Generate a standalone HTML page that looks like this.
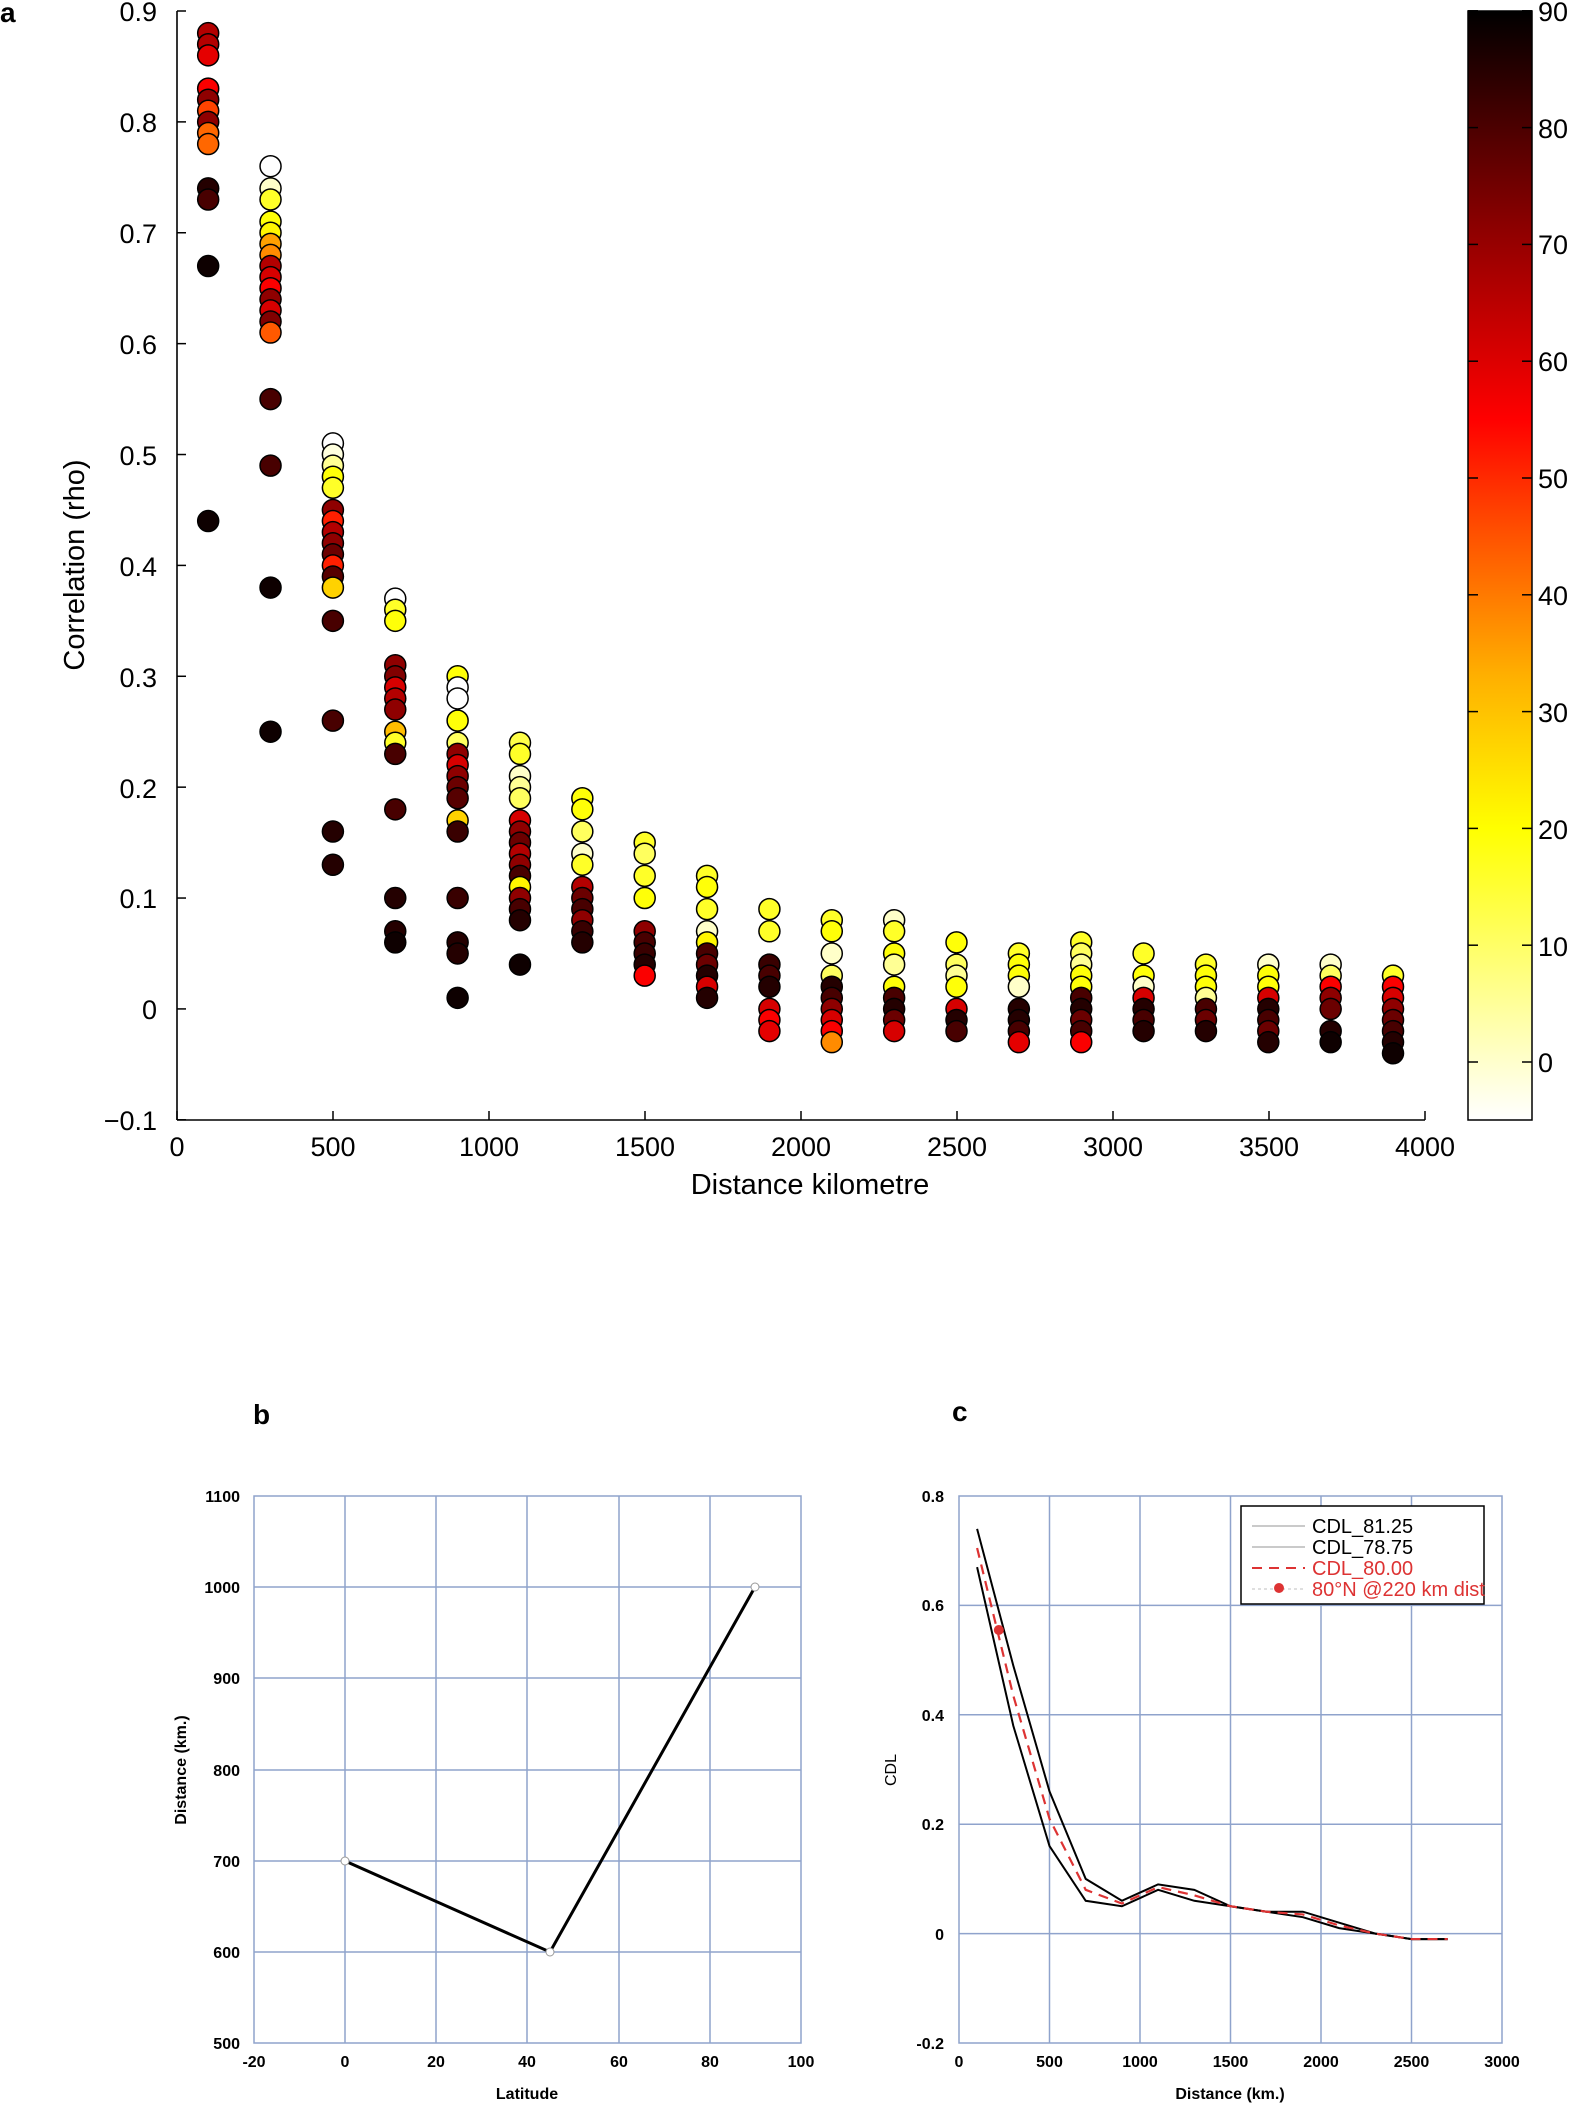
<!DOCTYPE html>
<html><head><meta charset="utf-8"><style>
html,body{margin:0;padding:0;background:#fff}
svg{display:block}
text{font-family:"Liberation Sans",Arial,sans-serif}
</style></head><body>
<svg id="s" width="1575" height="2108" viewBox="0 0 1575 2108" xmlns="http://www.w3.org/2000/svg">
<defs>
<linearGradient id="cb" x1="0" y1="1" x2="0" y2="0">
<stop offset="0" stop-color="#ffffff"/>
<stop offset="0.263" stop-color="#ffff00"/>
<stop offset="0.40" stop-color="#ffb000"/>
<stop offset="0.53" stop-color="#ff5000"/>
<stop offset="0.632" stop-color="#ff0000"/>
<stop offset="0.80" stop-color="#900000"/>
<stop offset="1" stop-color="#000000"/>
</linearGradient>
</defs>
<text x="0" y="22" font-size="28" font-weight="bold">a</text>
<g stroke="#000" stroke-width="1.6" fill="none">
<line x1="177" y1="11" x2="177" y2="1120"/>
<line x1="177" y1="1120" x2="1425" y2="1120"/>
</g>
<g id="ticks" stroke="#000" stroke-width="1.5"></g>
<g font-size="27" text-anchor="end" fill="#000">
<text x="157" y="21">0.9</text><text x="157" y="132">0.8</text><text x="157" y="243">0.7</text>
<text x="157" y="354">0.6</text><text x="157" y="465">0.5</text><text x="157" y="576">0.4</text>
<text x="157" y="687">0.3</text><text x="157" y="798">0.2</text><text x="157" y="908">0.1</text>
<text x="157" y="1019">0</text><text x="157" y="1130">−0.1</text>
</g>
<g font-size="27" text-anchor="middle">
<text x="177" y="1156">0</text><text x="333" y="1156">500</text><text x="489" y="1156">1000</text>
<text x="645" y="1156">1500</text><text x="801" y="1156">2000</text><text x="957" y="1156">2500</text>
<text x="1113" y="1156">3000</text><text x="1269" y="1156">3500</text><text x="1425" y="1156">4000</text>
</g>
<text x="810" y="1194" font-size="29" text-anchor="middle">Distance kilometre</text>
<text transform="translate(84,565) rotate(-90)" font-size="29" text-anchor="middle">Correlation (rho)</text>
<g id="pts" stroke="#000" stroke-width="1.5"></g>
<rect x="1468" y="11" width="64" height="1109" fill="url(#cb)" stroke="#000" stroke-width="1.5"/>
<g id="cbt" stroke="#000" stroke-width="1.5"></g>
<g font-size="27" fill="#000">
<text x="1538" y="21">90</text><text x="1538" y="138">80</text><text x="1538" y="254">70</text>
<text x="1538" y="371">60</text><text x="1538" y="488">50</text><text x="1538" y="605">40</text>
<text x="1538" y="722">30</text><text x="1538" y="839">20</text><text x="1538" y="956">10</text>
<text x="1538" y="1072">0</text>
</g>

<text x="253" y="1424" font-size="28" font-weight="bold">b</text>
<g stroke="#8fa3cc" stroke-width="1.5" fill="none">
<rect x="254" y="1496" width="547" height="547"/>
<line x1="345" y1="1496" x2="345" y2="2043"/><line x1="436" y1="1496" x2="436" y2="2043"/>
<line x1="527" y1="1496" x2="527" y2="2043"/><line x1="619" y1="1496" x2="619" y2="2043"/>
<line x1="710" y1="1496" x2="710" y2="2043"/>
<line x1="254" y1="1587" x2="801" y2="1587"/><line x1="254" y1="1678" x2="801" y2="1678"/>
<line x1="254" y1="1770" x2="801" y2="1770"/><line x1="254" y1="1861" x2="801" y2="1861"/>
<line x1="254" y1="1952" x2="801" y2="1952"/>
</g>
<polyline points="345,1861 550,1952 755,1587" fill="none" stroke="#000" stroke-width="3"/>
<g fill="#fff" stroke="#999" stroke-width="1"><circle cx="345" cy="1861" r="4"/><circle cx="550" cy="1952" r="4"/><circle cx="755" cy="1587" r="4"/></g>
<g font-size="16" font-weight="bold" text-anchor="end">
<text x="240" y="1502">1100</text><text x="240" y="1593">1000</text><text x="240" y="1684">900</text>
<text x="240" y="1776">800</text><text x="240" y="1867">700</text><text x="240" y="1958">600</text>
<text x="240" y="2049">500</text>
</g>
<g font-size="16" font-weight="bold" text-anchor="middle">
<text x="254" y="2067">-20</text><text x="345" y="2067">0</text><text x="436" y="2067">20</text>
<text x="527" y="2067">40</text><text x="619" y="2067">60</text><text x="710" y="2067">80</text>
<text x="801" y="2067">100</text>
<text x="527" y="2099">Latitude</text>
</g>
<text transform="translate(186,1770) rotate(-90)" font-size="16" font-weight="bold" text-anchor="middle">Distance (km.)</text>

<text x="952" y="1421" font-size="28" font-weight="bold">c</text>
<g stroke="#8fa3cc" stroke-width="1.5" fill="none">
<rect x="959" y="1496" width="543" height="547"/>
<line x1="1049.5" y1="1496" x2="1049.5" y2="2043"/><line x1="1140" y1="1496" x2="1140" y2="2043"/>
<line x1="1230.5" y1="1496" x2="1230.5" y2="2043"/><line x1="1321" y1="1496" x2="1321" y2="2043"/>
<line x1="1411.5" y1="1496" x2="1411.5" y2="2043"/>
<line x1="959" y1="1605.4" x2="1502" y2="1605.4"/><line x1="959" y1="1714.8" x2="1502" y2="1714.8"/>
<line x1="959" y1="1824.2" x2="1502" y2="1824.2"/><line x1="959" y1="1933.6" x2="1502" y2="1933.6"/>
</g>
<g id="clines"></g>
<g font-size="16" font-weight="bold" text-anchor="end">
<text x="944" y="1502">0.8</text><text x="944" y="1611">0.6</text><text x="944" y="1721">0.4</text>
<text x="944" y="1830">0.2</text><text x="944" y="1940">0</text><text x="944" y="2049">-0.2</text>
</g>
<g font-size="16" font-weight="bold" text-anchor="middle">
<text x="959" y="2067">0</text><text x="1049.5" y="2067">500</text><text x="1140" y="2067">1000</text>
<text x="1230.5" y="2067">1500</text><text x="1321" y="2067">2000</text><text x="1411.5" y="2067">2500</text>
<text x="1502" y="2067">3000</text>
<text x="1230" y="2099">Distance (km.)</text>
</g>
<text transform="translate(896,1770) rotate(-90)" font-size="16" text-anchor="middle">CDL</text>
<rect x="1241" y="1506" width="243" height="98" fill="#fff" stroke="#000" stroke-width="1.5"/>
<g stroke-width="1.2">
<line x1="1252" y1="1526" x2="1305" y2="1526" stroke="#aaa"/>
<line x1="1252" y1="1547" x2="1305" y2="1547" stroke="#aaa"/>
<line x1="1252" y1="1568" x2="1305" y2="1568" stroke="#dd3333" stroke-width="2" stroke-dasharray="10,7"/>
<line x1="1252" y1="1589" x2="1305" y2="1589" stroke="#ccc" stroke-dasharray="3,3"/>
</g>
<circle cx="1279" cy="1588" r="5" fill="#dd3333"/>
<g font-size="20">
<text x="1312" y="1533">CDL_81.25</text><text x="1312" y="1554">CDL_78.75</text>
<text x="1312" y="1575" fill="#dd3333">CDL_80.00</text><text x="1312" y="1596" fill="#dd3333">80°N @220 km dist</text>
</g>
</svg>
<script>
var NS="http://www.w3.org/2000/svg";
function el(p,t,a){var e=document.createElementNS(NS,t);for(var k in a)e.setAttribute(k,a[k]);p.appendChild(e);return e;}
function X(d){return 177+d*0.3118;}
function Y(v){return 11+(0.9-v)*1108.8;}
var tk=document.getElementById('ticks');
for(var i=0;i<=10;i++){var y=11+i*110.88;el(tk,'line',{x1:177,y1:y,x2:186,y2:y});}
for(var i=0;i<=8;i++){var x=177+i*156;el(tk,'line',{x1:x,y1:1120,x2:x,y2:1111});}
var cb=document.getElementById('cbt');
for(var i=0;i<=9;i++){var y=1062-i*116.8;el(cb,'line',{x1:1468,y1:y,x2:1478,y2:y});el(cb,'line',{x1:1522,y1:y,x2:1532,y2:y});}
function col(v){var s=1-(v+5)/95;s=Math.max(0,Math.min(1,s));
var r=Math.min(1,s/0.375),g=Math.max(0,Math.min(1,(s-0.375)/0.375)),b=Math.max(0,Math.min(1,(s-0.75)/0.25));
return 'rgb('+Math.round(r*255)+','+Math.round(g*255)+','+Math.round(b*255)+')';}
var D={100:[[.88,65],[.87,65],[.86,58],[.83,55],[.82,70],[.81,45],[.80,70],[.79,40],[.78,40],[.74,85],[.73,80],[.67,88],[.44,88]],
300:[[.76,-5],[.74,0],[.73,15],[.71,18],[.70,20],[.69,32],[.68,35],[.67,65],[.66,60],[.65,55],[.64,70],[.63,60],[.62,72],[.61,42],[.55,80],[.49,80],[.38,88],[.25,88]],
500:[[.51,-5],[.50,-2],[.49,5],[.48,18],[.47,15],[.45,70],[.44,50],[.43,65],[.42,70],[.41,75],[.40,50],[.39,78],[.38,25],[.35,80],[.26,80],[.16,85],[.13,85]],
700:[[.37,-5],[.36,15],[.35,18],[.31,70],[.30,72],[.29,60],[.28,65],[.27,70],[.25,28],[.24,15],[.23,80],[.18,80],[.10,85],[.07,85],[.06,88]],
900:[[.30,18],[.29,-5],[.28,-5],[.26,18],[.24,10],[.23,70],[.22,60],[.21,70],[.20,75],[.19,78],[.17,25],[.16,82],[.10,82],[.06,85],[.05,85],[.01,88]],
1100:[[.24,12],[.23,15],[.21,0],[.20,5],[.19,10],[.17,60],[.16,70],[.15,75],[.14,65],[.13,70],[.12,80],[.11,20],[.10,70],[.09,80],[.08,85],[.04,88]],
1300:[[.19,18],[.18,18],[.16,10],[.14,0],[.13,15],[.11,65],[.10,75],[.09,80],[.08,70],[.07,82],[.06,85]],
1500:[[.15,15],[.14,10],[.12,15],[.10,18],[.07,70],[.06,80],[.05,82],[.04,85],[.03,55]],
1700:[[.12,15],[.11,18],[.09,15],[.07,0],[.06,20],[.05,80],[.04,75],[.03,85],[.02,60],[.01,85]],
1900:[[.09,15],[.07,15],[.04,82],[.03,80],[.02,85],[0,60],[-.01,55],[-.02,58]],
2100:[[.08,15],[.07,18],[.05,0],[.03,10],[.02,85],[.01,80],[0,70],[-.01,60],[-.02,55],[-.03,35]],
2300:[[.08,0],[.07,15],[.05,18],[.04,5],[.02,18],[.01,80],[0,85],[-.01,75],[-.02,60]],
2500:[[.06,18],[.04,10],[.03,5],[.02,18],[0,60],[-.01,85],[-.02,80]],
2700:[[.05,15],[.04,18],[.03,18],[.02,0],[0,85],[-.01,85],[-.02,80],[-.03,58]],
2900:[[.06,15],[.05,10],[.04,5],[.03,18],[.02,18],[.01,80],[0,85],[-.01,75],[-.02,80],[-.03,55]],
3100:[[.05,15],[.03,18],[.02,0],[.01,60],[0,85],[-.01,80],[-.02,85]],
3300:[[.04,15],[.03,18],[.02,18],[.01,5],[0,80],[-.01,75],[-.02,85]],
3500:[[.04,0],[.03,18],[.02,18],[.01,60],[0,85],[-.01,80],[-.02,75],[-.03,85]],
3700:[[.04,0],[.03,10],[.02,55],[.01,70],[0,75],[-.02,85],[-.03,88]],
3900:[[.03,15],[.02,55],[.01,60],[0,70],[-.01,75],[-.02,80],[-.03,85],[-.04,88]]};
var P=document.getElementById('pts');
for(var k in D){var a=D[k];for(var j=0;j<a.length;j++){el(P,'circle',{cx:X(+k),cy:Y(a[j][0]),r:10.5,fill:col(a[j][1])});}}
function CX(d){return 959+d*0.181;}function CY(v){return 1496+(0.8-v)*547;}
var xs=[100,300,500,700,900,1100,1300,1500,1700,1900,2100,2300,2500,2700];
var up=[.74,.49,.26,.10,.06,.09,.08,.05,.04,.04,.02,0,-.01,-.01];
var lo=[.67,.38,.16,.06,.05,.08,.06,.05,.04,.03,.01,0,-.01,-.01];
var C=document.getElementById('clines');
function pl(v){return xs.map(function(x,i){return CX(x)+','+CY(v[i]);}).join(' ');}
el(C,'polyline',{points:pl(up),fill:'none',stroke:'#000','stroke-width':2});
el(C,'polyline',{points:pl(lo),fill:'none',stroke:'#000','stroke-width':2});
el(C,'polyline',{points:pl(up.map(function(u,i){return (u+lo[i])/2;})),fill:'none',stroke:'#dd3333','stroke-width':2.2,'stroke-dasharray':'10,7'});
el(C,'circle',{cx:CX(220),cy:CY(0.555),r:5,fill:'#dd3333'});
</script>
</body></html>
